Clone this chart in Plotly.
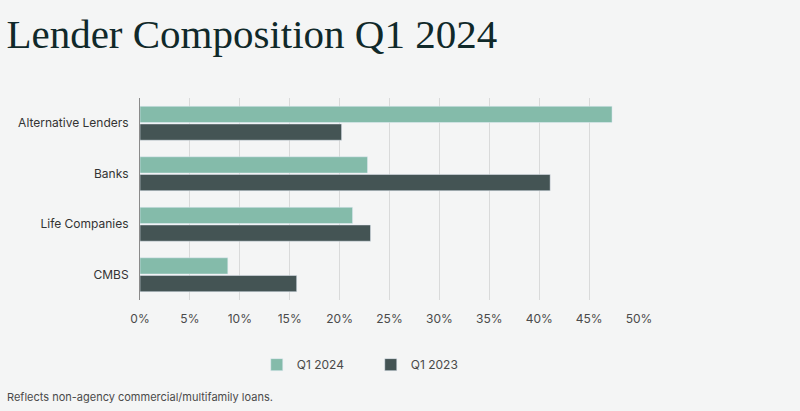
import plotly.graph_objects as go

# lender composition, share of non-agency loans (%)
categories = ["Alternative Lenders", "Banks", "Life Companies", "CMBS"]
q1_2024 = [47.3, 22.8, 21.3, 8.8]
q1_2023 = [20.2, 41.1, 23.1, 15.7]
x_ticks = [0, 5, 10, 15, 20, 25, 30, 35, 40, 45, 50]

fig = go.Figure()
fig.add_trace(go.Bar(y=categories, x=q1_2024, name="Q1 2024", orientation="h",
                     marker=dict(color="#84bbaa")))
fig.add_trace(go.Bar(y=categories, x=q1_2023, name="Q1 2023", orientation="h",
                     marker=dict(color="#445454")))

fig.update_layout(
    width=800, height=411,
    paper_bgcolor="#f4f5f5", plot_bgcolor="#f4f5f5",
    margin=dict(l=140, r=161, t=98, b=111),
    barmode="group", bargap=0.3, bargroupgap=0.08,
    title=dict(text="Lender Composition Q1 2024", xref="container", x=0.008,
               y=1 - 34 / 411, yanchor="middle", xanchor="left",
               font=dict(family="Liberation Serif", size=41, color="#10292a")),
    font=dict(family="Inter", size=12, color="#4a4a4a"),
    legend=dict(orientation="h", x=0.234, xanchor="left", y=-0.32, yanchor="middle",
                entrywidth=69, font=dict(size=12, color="#4a4a4a"), traceorder="normal"),
    showlegend=True,
)
fig.update_xaxes(range=[0, 50], tickvals=x_ticks, ticktext=[f"{t}%" for t in x_ticks],
                 showgrid=True, gridcolor="#d9dada", gridwidth=1, zeroline=False,
                 showline=False, ticks="", ticklabelstandoff=10,
                 tickfont=dict(size=12, color="#4a4a4a"))
fig.update_yaxes(autorange="reversed", showline=True, linecolor="#8a8a8a", linewidth=1,
                 ticks="", ticklabelstandoff=8, tickfont=dict(size=12, color="#333333"))

fig.add_annotation(text="Reflects non-agency commercial/multifamily loans.",
                   xref="paper", yref="paper", x=-0.27, y=-0.48, xanchor="left",
                   yanchor="middle", showarrow=False,
                   font=dict(family="Inter", size=11, color="#4a4a4a"))

# drop the page's default body margin so the figure sits flush in the window
fig.write_html("out.html", config={"displayModeBar": False},
               post_script="document.body.style.margin='0';")
